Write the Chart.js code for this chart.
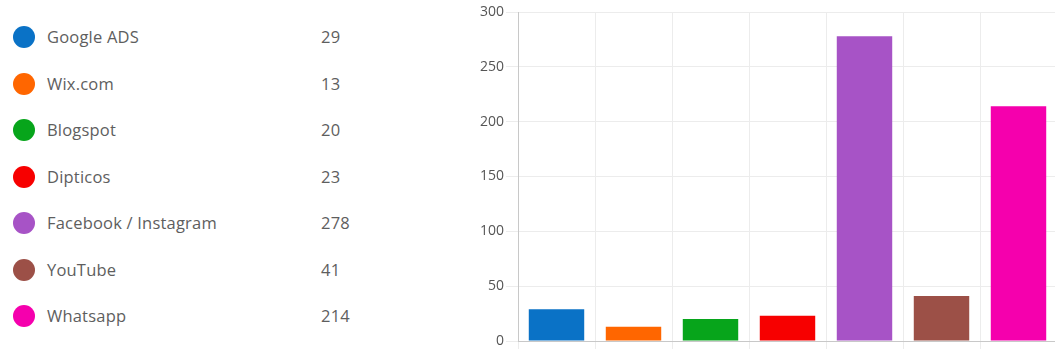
<!DOCTYPE html>
<html>
<head>
<meta charset="utf-8">
<script src="https://cdn.jsdelivr.net/npm/chart.js@4/dist/chart.umd.min.js"></script>
<style>
  html, body { margin: 0; padding: 0; background: #fff; overflow: hidden; width: 1055px; height: 352px; }
  #legend { position: absolute; left: 0; top: 0; width: 440px; font-family: "Open Sans", sans-serif; font-size: 16.5px; color: #5e5e5e; letter-spacing: 0.2px; }
  .row { position: absolute; left: 0; height: 24px; width: 440px; }
  .dot { position: absolute; left: 13px; top: 1px; width: 22px; height: 22px; border-radius: 50%; }
  .lab { position: absolute; left: 47px; top: 0; line-height: 24px; white-space: nowrap; }
  .val { position: absolute; left: 321px; top: 0; line-height: 24px; }
  #wrap { position: absolute; left: 455px; top: 0; width: 605px; height: 352px; }
</style>
</head>
<body>
<div id="legend"></div>
<div id="wrap"><canvas id="c"></canvas></div>
<script>
const categories = ["Google ADS", "Wix.com", "Blogspot", "Dipticos", "Facebook / Instagram", "YouTube", "Whatsapp"];
const values = [29, 13, 20, 23, 278, 41, 214];
const colors = ["#0a72c6", "#ff6600", "#07a51b", "#f70000", "#a753c6", "#9c5047", "#f500ad"];
const yTicks = [0, 50, 100, 150, 200, 250, 300];

const legend = document.getElementById('legend');
categories.forEach((name, i) => {
  const row = document.createElement('div');
  row.className = 'row';
  row.style.top = (25 + i * 46.5) + 'px';
  row.innerHTML = '<span class="dot" style="background:' + colors[i] + '"></span>' +
    '<span class="lab">' + name + '</span><span class="val">' + values[i] + '</span>';
  legend.appendChild(row);
});

new Chart(document.getElementById('c'), {
  type: 'bar',
  data: {
    labels: categories,
    datasets: [{ data: values, backgroundColor: colors, borderWidth: 0, barPercentage: 0.72, categoryPercentage: 1 }]
  },
  options: {
    responsive: true,
    maintainAspectRatio: false,
    animation: false,
    layout: { padding: { top: 12, right: 3, left: 0, bottom: 0 } },
    plugins: { legend: { display: false }, tooltip: { enabled: false } },
    scales: {
      x: {
        grid: { color: '#ececec', tickLength: 8, offset: true },
        border: { color: '#c8c8c8' },
        ticks: { display: false },
        afterFit: s => { s.height = 11; }
      },
      y: {
        min: 0, max: 300,
        afterBuildTicks: s => { s.ticks = yTicks.map(v => ({ value: v })); },
        grid: { color: '#ececec', tickLength: 12 },
        border: { color: '#c8c8c8' },
        ticks: { color: '#555', font: { family: 'Open Sans', size: 14 }, padding: 2 },
        afterFit: s => { s.width = 63; }
      }
    }
  }
});
</script>
</body>
</html>
